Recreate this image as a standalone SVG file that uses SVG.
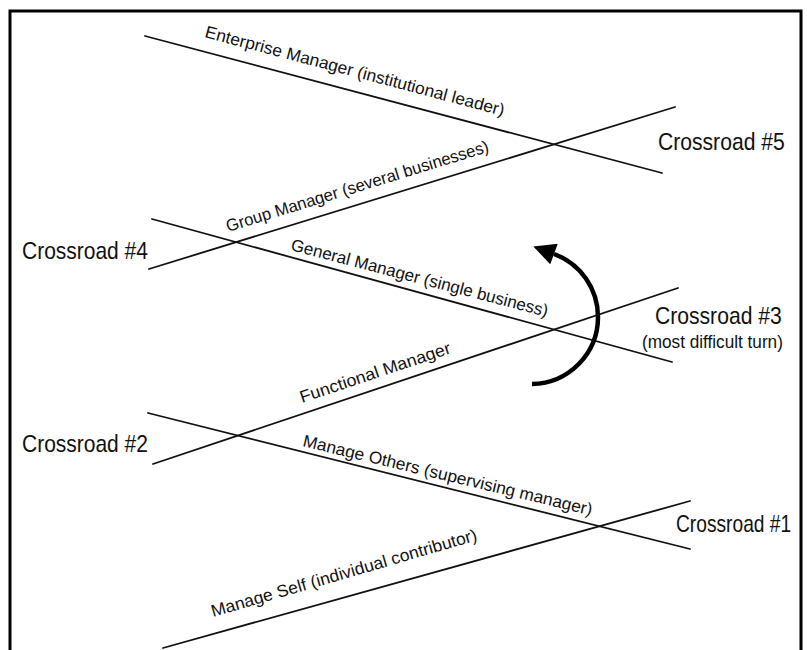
<svg xmlns="http://www.w3.org/2000/svg" width="807" height="650" viewBox="0 0 807 650">
  <style>
    .road { stroke: #111; stroke-width: 1.8; fill: none; stroke-linecap: round; }
    .frame { stroke: #000; stroke-width: 3; fill: none; }
    .lbl { font-family: "Liberation Sans", Arial, sans-serif; font-size: 17px; fill: #111; }
    .cross { font-family: "Liberation Sans", Arial, sans-serif; font-size: 24px; fill: #111; }
    .note { font-family: "Liberation Sans", Arial, sans-serif; font-size: 18px; fill: #111; }
    .turn { stroke: #000; stroke-width: 4.5; fill: none; }
  </style>
  <defs>
    <marker id="head" viewBox="0 0 10 10" refX="0" refY="5" markerWidth="26" markerHeight="22" markerUnits="userSpaceOnUse" orient="auto">
      <path d="M0,0 L10,5 L0,10 z" fill="#000"/>
    </marker>
  </defs>
  <rect width="807" height="650" fill="#fff"/>

  <!-- outer frame: left, top and right edges -->
  <path class="frame" d="M10,650 L10,11 L801,11 L801,650"/>

  <!-- the six passages drawn as straight roads -->
  <g id="connectors">
    <line class="road" x1="145" y1="36" x2="662" y2="173"/>
    <line class="road" x1="149" y1="269" x2="675" y2="107"/>
    <line class="road" x1="152" y1="219" x2="672" y2="362"/>
    <line class="road" x1="153" y1="464" x2="678" y2="288"/>
    <line class="road" x1="148" y1="413" x2="690" y2="549"/>
    <line class="road" x1="163" y1="648" x2="690" y2="501"/>
  </g>

  <!-- passage labels -->
  <g id="enterprise-manager">
    <text class="lbl" transform="translate(204,37) rotate(14.8)" textLength="309" lengthAdjust="spacingAndGlyphs">Enterprise Manager (institutional leader)</text>
  </g>
  <g id="group-manager">
    <text class="lbl" transform="translate(228,232) rotate(-17.1)" textLength="274" lengthAdjust="spacingAndGlyphs">Group Manager (several businesses)</text>
  </g>
  <g id="general-manager">
    <text class="lbl" transform="translate(290,250) rotate(14.6)" textLength="265" lengthAdjust="spacingAndGlyphs">General Manager (single business)</text>
  </g>
  <g id="functional-manager">
    <text class="lbl" transform="translate(302,403) rotate(-18.5)" textLength="158" lengthAdjust="spacingAndGlyphs">Functional Manager</text>
  </g>
  <g id="manage-others">
    <text class="lbl" transform="translate(302,446) rotate(13.5)" textLength="297" lengthAdjust="spacingAndGlyphs">Manage Others (supervising manager)</text>
  </g>
  <g id="manage-self">
    <text class="lbl" transform="translate(213,617) rotate(-16.2)" textLength="276" lengthAdjust="spacingAndGlyphs">Manage Self (individual contributor)</text>
  </g>

  <!-- crossroad labels (horizontally condensed type) -->
  <g id="crossroad-5">
    <text class="cross" transform="translate(658,150) scale(0.88,1)">Crossroad #5</text>
  </g>
  <g id="crossroad-4">
    <text class="cross" transform="translate(22,259) scale(0.875,1)">Crossroad #4</text>
  </g>
  <g id="crossroad-3">
    <text class="cross" transform="translate(655,324) scale(0.88,1)">Crossroad #3</text>
    <text class="note" transform="translate(642,348) scale(0.955,1)">(most difficult turn)</text>
  </g>
  <g id="crossroad-2">
    <text class="cross" transform="translate(22,452) scale(0.875,1)">Crossroad #2</text>
  </g>
  <g id="crossroad-1">
    <text class="cross" transform="translate(676,532) scale(0.8,1)">Crossroad #1</text>
  </g>

  <!-- curved turn arrow -->
  <g id="turn-arrow">
    <path class="turn" d="M532,384 A67,67 0 0 0 598,317 A67,67 0 0 0 554,254" marker-end="url(#head)"/>
  </g>
</svg>
